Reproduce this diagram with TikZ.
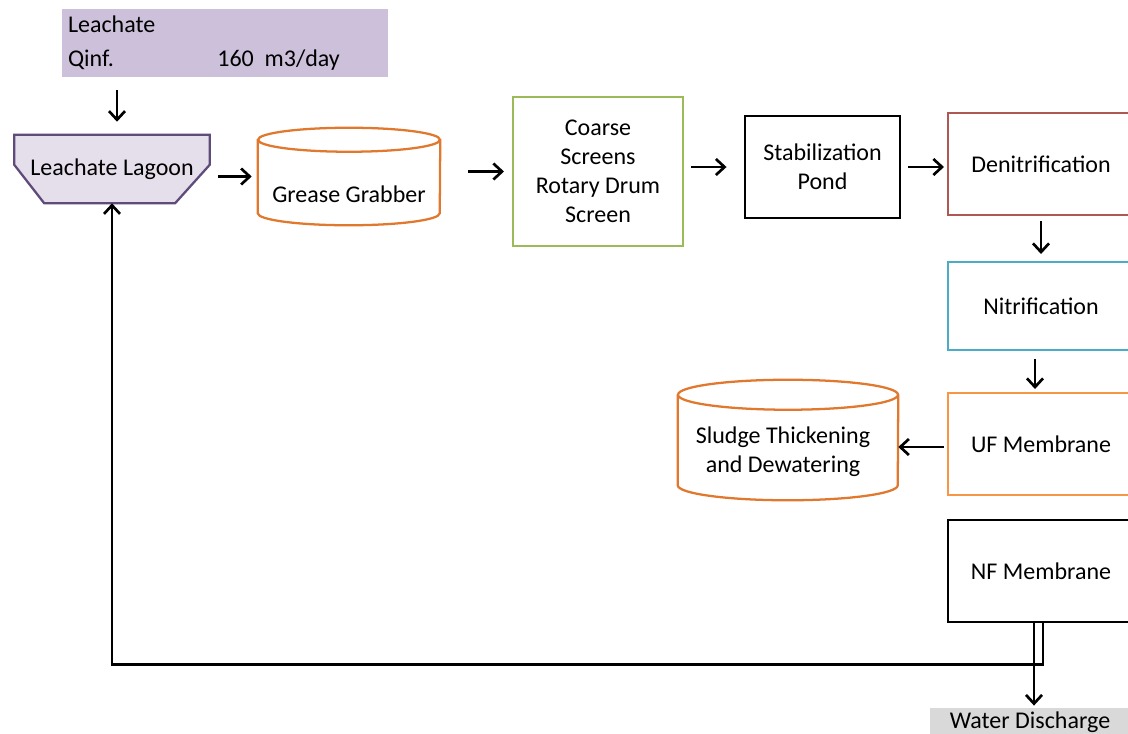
\documentclass[tikz,border=0pt]{standalone}
\usepackage{fontspec}
\setmainfont{Carlito}
\usetikzlibrary{arrows.meta,positioning,backgrounds}
\definecolor{leachfill}{HTML}{CCC0DA}
\definecolor{lagoonfill}{HTML}{E5DFEC}
\definecolor{lagoonline}{HTML}{5F4B7A}
\definecolor{tankline}{HTML}{E0782E}
\definecolor{screengreen}{HTML}{9BBB59}
\definecolor{denitred}{HTML}{AE5753}
\definecolor{nitblue}{HTML}{4BACC6}
\definecolor{uforange}{HTML}{F79646}
\definecolor{dischargegray}{HTML}{D9D9D9}

\begin{document}
\begin{tikzpicture}[x=0.75pt,y=-0.75pt,
  every node/.style={font=\fontsize{18}{21.75}\selectfont},
  >={Straight Barb[length=6.5pt,width=12pt,line width=2pt]},
  flow/.style={->,line width=2pt},
  procbox/.style={draw,line width=1.5pt,align=center,inner sep=0pt,minimum width=139.5pt,minimum height=76.5pt},
  tank/.style={inner sep=0pt,align=center},
  tankline/.style={draw=tankline,line width=1.7pt}]
\useasboundingbox (0,0) rectangle (1128,733);
\clip (0,0) rectangle (1128,733);

% influent
\node[fill=leachfill,inner sep=0pt,minimum height=48.75pt,font=\fontsize{18}{25.5}\selectfont] (inflow) at (225,42.5)
 {\setlength{\tabcolsep}{0pt}\begin{tabular}{@{\hspace{4.5pt}}p{112pt}p{128pt}@{}}Leachate & \\ Qinf. & 160~ m3/day\end{tabular}};

% lagoon (shape drawn behind)
\node[inner sep=0pt,minimum width=146.25pt,minimum height=51pt] (lagoon) at (112,169) {Leachate Lagoon};
\begin{scope}[on background layer]
\draw[draw=lagoonline,fill=lagoonfill,line width=1.7pt] (lagoon.north west) -- (lagoon.north east)
  -- ([yshift=-22.5pt]lagoon.north east) -- ([xshift=-26pt]lagoon.south east)
  -- ([xshift=22.5pt]lagoon.south west) -- ([yshift=-22.5pt]lagoon.north west) -- cycle;
\end{scope}

% tanks: node is the body, outline drawn from its anchors
\node[tank,minimum width=136.5pt,minimum height=72.75pt] (grease) at (349,176.5) {};
\node (greasetxt) at ([yshift=-13.5pt]grease.center) {Grease Grabber};
\draw[tankline] ([yshift=-9pt]grease.north west) -- ([yshift=9pt]grease.south west)
  arc[start angle=180,end angle=360,x radius=68.25pt,y radius=9pt] -- ([yshift=-9pt]grease.north east);
\draw[tankline] ([yshift=-9pt]grease.north) ellipse[x radius=68.25pt,y radius=9pt];

\node[procbox,draw=screengreen,minimum width=127.5pt,minimum height=111.75pt] (screen) at (598,171.5) {Coarse\\Screens\\Rotary Drum\\Screen};
\node[procbox,line width=2.2pt,minimum width=116.25pt] (stab) at (822.5,167) {Stabilization\\Pond};
\node[procbox,draw=denitred] (denit) at (1041,164) {Denitrification};
\node[procbox,draw=nitblue,minimum height=66pt] (nit) at (1041,306) {Nitrification};
\node[procbox,draw=uforange] (uf) at (1041,444) {UF Membrane};
\node[procbox,line width=2.2pt] (nf) at (1041,571) {NF Membrane};

\node[tank,minimum width=165pt,minimum height=90pt] (sludge) at (788,440) {};
\node[align=center] (sludgetxt) at ([xshift=-3.75pt,yshift=-9pt]sludge.center) {Sludge Thickening\\and Dewatering};
\draw[tankline] ([yshift=-11.25pt]sludge.north west) -- ([yshift=11.25pt]sludge.south west)
  arc[start angle=180,end angle=360,x radius=82.5pt,y radius=11.25pt] -- ([yshift=-11.25pt]sludge.north east);
\draw[tankline] ([yshift=-11.25pt]sludge.north) ellipse[x radius=82.5pt,y radius=11.25pt];

\node[fill=dischargegray,inner sep=0pt,minimum width=150pt,minimum height=22pt] (water) at (1030,722.5) {Water Discharge};

% flow lines
\draw[flow,shorten <=9.75pt,shorten >=9.75pt] ([xshift=3.75pt]inflow.south -| lagoon.north) -- ([xshift=3.75pt]lagoon.north);
\draw[flow,shorten <=6pt,shorten >=4.5pt] (lagoon.east |- grease.west) -- (grease.west);
\draw[flow,shorten <=21pt,shorten >=6pt] (grease.east |- screen.west) -- (screen.west);
\draw[flow,shorten <=5.25pt,shorten >=12.75pt] (screen.east |- stab.west) -- (stab.west);
\draw[flow,shorten <=5.25pt,shorten >=2.25pt] (stab.east) -- (stab.east -| denit.west);
\draw[flow,shorten <=3.75pt,shorten >=5.25pt] (denit.south) -- (nit.north);
\draw[flow,shorten <=6pt,shorten >=2.25pt] ([xshift=-4.5pt]nit.south) -- ([xshift=-4.5pt]uf.north);
\draw[flow,shorten <=2.25pt] ([yshift=-2.25pt]uf.west) -- ([yshift=-2.25pt]uf.west -| sludge.east);
\draw[flow] ([xshift=1.5pt]nf.south) -- ++(0,41) -| (lagoon.south);
\draw[flow,shorten >=1.5pt] ([xshift=-5.25pt]nf.south) -- ([xshift=-5.25pt]nf.south |- water.north);
\end{tikzpicture}
\end{document}
